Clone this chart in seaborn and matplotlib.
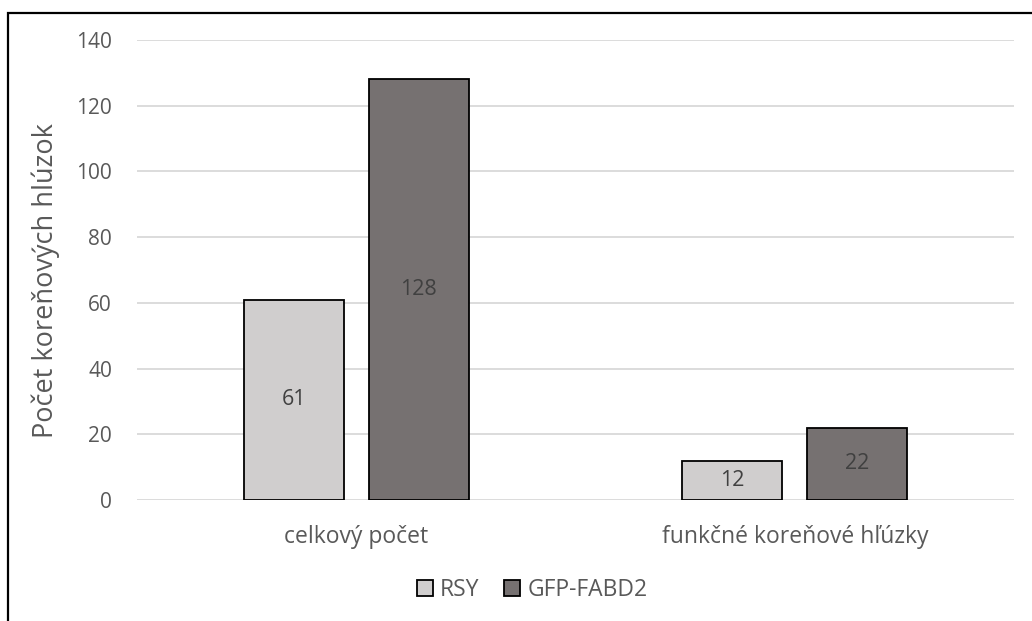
import pandas as pd
import seaborn as sns
import matplotlib.pyplot as plt
from matplotlib.patches import Rectangle

# Data
categories = ['celkový počet', 'funkčné koreňové hľúzky']
series_names = ['RSY', 'GFP-FABD2']
rsy_values = [61, 12]
gfp_values = [128, 22]
y_ticks = [0, 20, 40, 60, 80, 100, 120, 140]

colors = {'RSY': '#d0cece', 'GFP-FABD2': '#767171'}
text_color = '#595959'

df = pd.DataFrame({
    'Kategória': categories * 2,
    'Línia': [series_names[0]] * len(categories) + [series_names[1]] * len(categories),
    'Počet': rsy_values + gfp_values,
})

sns.set_theme(style='white')
plt.rcParams['font.family'] = ['Open Sans', 'DejaVu Sans']

fig = plt.figure(figsize=(10.32, 6.21), dpi=100)
ax = fig.add_axes([0.1328, 0.1948, 0.8498, 0.7408])

sns.barplot(
    data=df, x='Kategória', y='Počet', hue='Línia', hue_order=series_names,
    palette=colors, width=0.57, gap=0.2, edgecolor='black', linewidth=1.3,
    saturation=1, ax=ax, legend=True
)

# Popisky hodnôt v strede stĺpcov
for cont in ax.containers:
    ax.bar_label(cont, label_type='center', fontsize=15.5, color='#404040')

ax.set_ylim(0, 140)
ax.set_yticks(y_ticks)
ax.yaxis.grid(True, color='#d9d9d9', linewidth=1.3)
ax.set_axisbelow(True)
for s in ax.spines.values():
    s.set_visible(False)
ax.tick_params(axis='y', length=0, labelsize=15, labelcolor=text_color, pad=18)
ax.tick_params(axis='x', length=0, labelsize=16.5, labelcolor=text_color, pad=18)
ax.set_xlabel('')
ax.set_ylabel('Počet koreňových hlúzok', fontsize=19.5, color=text_color)
ax.yaxis.set_label_coords(-0.088, 0.476)

handles, labels = ax.get_legend_handles_labels()
ax.legend(handles, labels, loc='center', bbox_to_anchor=(0.5155, 1 - 590 / 621),
          bbox_transform=fig.transFigure, ncol=2, frameon=False, fontsize=16.5,
          labelcolor=text_color, handlelength=0.7, handleheight=0.7,
          handletextpad=0.3, columnspacing=1.1)

# Rámček grafu
fig.patches.append(Rectangle((8 / 1032, -0.1), 1.2, 1 - 13 / 621 + 0.1,
                             transform=fig.transFigure, fill=False,
                             edgecolor='black', linewidth=1.6))

fig.savefig('out.png', dpi=100)
